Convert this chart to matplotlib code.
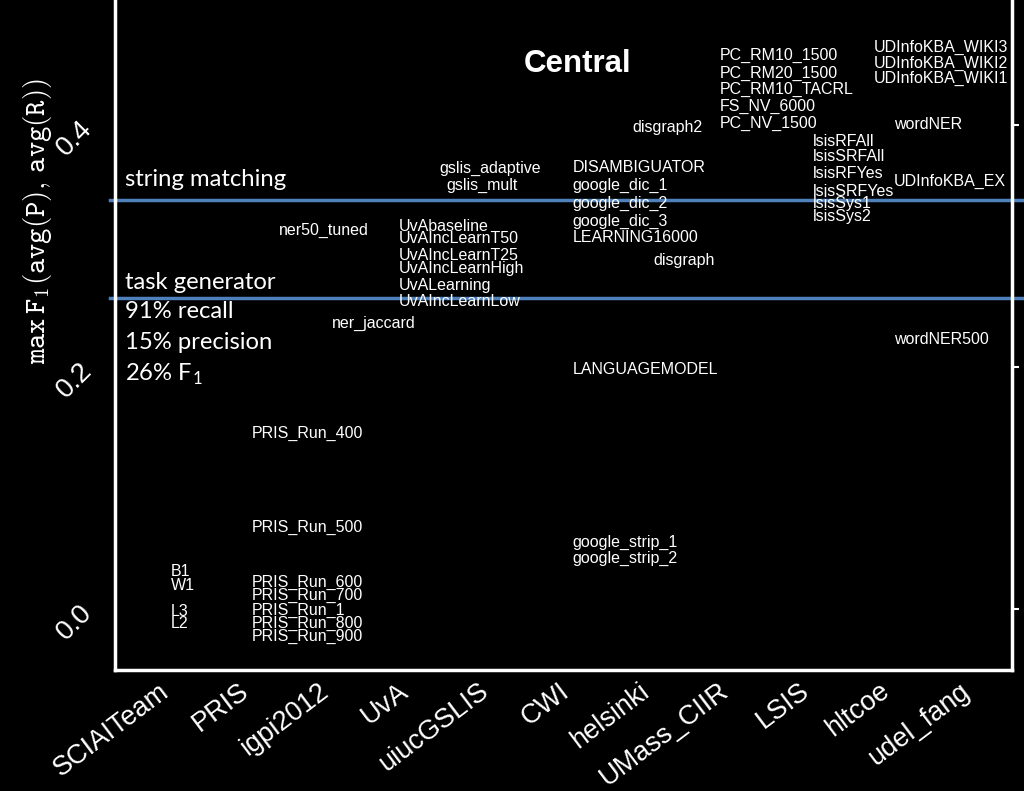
import matplotlib
matplotlib.use("Agg")
import matplotlib.pyplot as plt

plt.rcParams['mathtext.fontset'] = 'cm'

teams = ["SCIAITeam", "PRIS", "igpi2012", "UvA", "uiucGSLIS", "CWI",
         "helsinki", "UMass_CIIR", "LSIS", "hltcoe", "udel_fang"]

# run name, team index, max F1
runs = ["B1", "W1", "L3", "L2",
        "PRIS_Run_400", "PRIS_Run_500", "PRIS_Run_600", "PRIS_Run_700",
        "PRIS_Run_1", "PRIS_Run_800", "PRIS_Run_900",
        "ner50_tuned", "ner_jaccard",
        "UvAbaseline", "UvAIncLearnT50", "UvAIncLearnT25", "UvAIncLearnHigh",
        "UvALearning", "UvAIncLearnLow",
        "gslis_adaptive", "gslis_mult",
        "DISAMBIGUATOR", "google_dic_1", "google_dic_2", "google_dic_3",
        "LEARNING16000", "LANGUAGEMODEL", "google_strip_1", "google_strip_2",
        "disgraph2", "disgraph",
        "PC_RM10_1500", "PC_RM20_1500", "PC_RM10_TACRL", "FS_NV_6000", "PC_NV_1500",
        "lsisRFAll", "lsisSRFAll", "lsisRFYes", "lsisSRFYes", "lsisSys1", "lsisSys2",
        "wordNER", "wordNER500",
        "UDInfoKBA_WIKI3", "UDInfoKBA_WIKI2", "UDInfoKBA_WIKI1", "UDInfoKBA_EX"]
run_team = [0, 0, 0, 0,
            1, 1, 1, 1, 1, 1, 1,
            2, 2,
            3, 3, 3, 3, 3, 3,
            4, 4,
            5, 5, 5, 5, 5, 5, 5, 5,
            6, 6,
            7, 7, 7, 7, 7,
            8, 8, 8, 8, 8, 8,
            9, 9,
            10, 10, 10, 10]
run_f1 = [0.031, 0.019, -0.002, -0.012,
          0.145, 0.067, 0.022, 0.011, -0.001, -0.012, -0.023,
          0.313, 0.236,
          0.316, 0.306, 0.292, 0.281, 0.267, 0.254,
          0.364, 0.350,
          0.365, 0.350, 0.335, 0.320, 0.307, 0.198, 0.055, 0.042,
          0.398, 0.288,
          0.457, 0.442, 0.429, 0.415, 0.401,
          0.386, 0.374, 0.360, 0.345, 0.335, 0.324,
          0.400, 0.223,
          0.464, 0.451, 0.438, 0.353]

# horizontal nudge of each label from its team position (layout only)
nudge = [0.1, 0.1, 0.1, 0.1,
         0.11, 0.11, 0.11, 0.11, 0.11, 0.11, 0.11,
         -0.55, 0.11,
         -0.06, -0.06, -0.06, -0.06, -0.06, -0.06,
         -0.55, -0.46,
         0.11, 0.11, 0.11, 0.11, 0.11, 0.11, 0.11, 0.11,
         -0.14, 0.125,
         -0.05, -0.05, -0.05, -0.05, -0.05,
         0.11, 0.11, 0.11, 0.11, 0.11, 0.11,
         0.125, 0.125,
         -1.125, -1.125, -1.125, -0.875]

baselines = [0.338, 0.257]
baseline_names = ["string matching", "task generator"]
notes = ["91% recall", "15% precision", r"26% F$_\mathregular{1}$"]
note_y = [0.246, 0.220, 0.194]

fig = plt.figure(figsize=(10.24, 7.91), dpi=100)
fig.patch.set_facecolor("black")
ax = fig.add_axes([0.1123, 0.153, 0.876, 0.85])
ax.set_facecolor("black")

for name, t, f, dx in zip(runs, run_team, run_f1, nudge):
    ax.text(t + dx, f, name, color="white", fontsize=11.5, ha="left", va="center",
            family="Liberation Sans")

for y in baselines:
    ax.axhline(y, xmin=-0.006, xmax=1.02, color="#4f81bd", lw=2.5, clip_on=False)

tr = ax.get_yaxis_transform()
for name, y in zip(baseline_names, [0.355, 0.270]):
    ax.text(0.011, y, name, transform=tr, color="white", fontsize=17.2,
            family="Lato", va="center")
for name, y in zip(notes, note_y):
    ax.text(0.011, y, name, transform=tr, color="white", fontsize=17.2,
            family="Lato", va="center")

ax.text(0.516, 0.902, "Central", transform=ax.transAxes, color="white",
        fontsize=22.5, fontweight="bold", ha="center", va="center",
        family="Liberation Sans")

ax.set_xlim(-0.6, 10.6)
ax.set_ylim(-0.0504, 0.505)
ax.set_xticks(range(len(teams)))
ax.set_xticklabels([])
xtr = ax.get_xaxis_transform()
for i, name in enumerate(teams):
    ax.text(i + 0.13, -0.012, name, transform=xtr, rotation=37, ha="right",
            va="top", color="white", fontsize=19.5, family="Liberation Sans")
ax.set_yticks([0.0, 0.2, 0.4])
ax.set_yticklabels(["0.0", "0.2", "0.4"], rotation=45, color="white",
                   fontsize=20, family="Liberation Sans", va="center", ha="right",
                   rotation_mode="anchor")
ax.tick_params(axis="x", length=0)
ax.tick_params(axis="y", left=False, right=True, direction="out", length=5,
               color="white", width=1.5, pad=14)
for s in ax.spines.values():
    s.set_color("white")
    s.set_linewidth(2.5)

fig.text(0.037, 0.72, r"$\mathtt{max}\,\mathtt{F}_1\left(\mathtt{avg}(\mathtt{P}),\,\mathtt{avg}(\mathtt{R})\right)$",
         rotation=90, color="white", fontsize=21, ha="center", va="center")

fig.savefig("out.png", dpi=100, facecolor="black")
